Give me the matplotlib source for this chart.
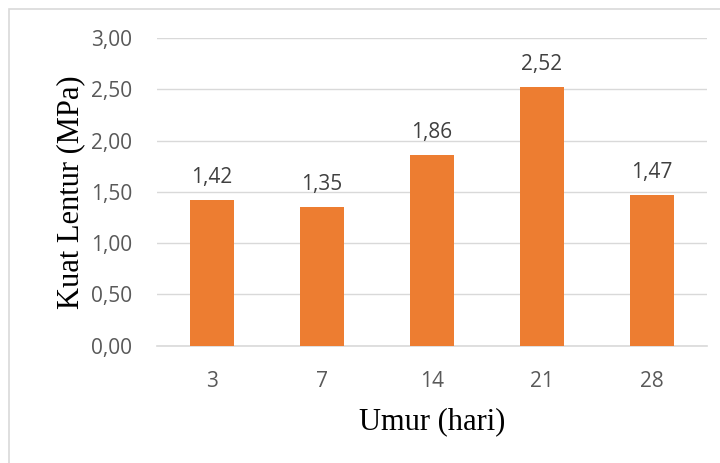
import matplotlib.pyplot as plt
from matplotlib.patches import Rectangle
from matplotlib.ticker import FuncFormatter

umur = ['3', '7', '14', '21', '28']
kuat_lentur = [1.42, 1.35, 1.86, 2.52, 1.47]
y_ticks = [0.0, 0.5, 1.0, 1.5, 2.0, 2.5, 3.0]

def koma(v, pos=None):
    # desimal pakai koma
    return f'{v:.2f}'.replace('.', ',')

fig = plt.figure(figsize=(7.2, 4.63), dpi=100)
ax = fig.add_axes([157/720, 1 - 345.7/463, 550/720, 307.8/463])

# bingkai luar abu-abu
fig.patches.append(Rectangle((9/720, -0.05), 1.1, 1 - 9/463 + 0.05, transform=fig.transFigure,
                             fill=False, edgecolor='#d9d9d9', linewidth=1.2))

x = range(len(umur))
bars = ax.bar(x, kuat_lentur, width=0.4, color='#ED7D31', zorder=3)

for b, v in zip(bars, kuat_lentur):
    ax.annotate(koma(v), (b.get_x() + b.get_width()/2, v), xytext=(0, 8.5),
                textcoords='offset points', ha='center', va='bottom',
                fontsize=15, color='#404040', family='Open Sans')

ax.set_xlim(-0.5, len(umur) - 0.5)
ax.set_ylim(0, 3.0)
ax.set_yticks(y_ticks)
ax.yaxis.set_major_formatter(FuncFormatter(koma))
ax.set_xticks(list(x))
ax.set_xticklabels(umur)
ax.grid(axis='y', color='#d9d9d9', linewidth=1.0, zorder=0)
for s in ['top', 'right', 'left']:
    ax.spines[s].set_visible(False)
ax.spines['bottom'].set_color('#d9d9d9')
ax.spines['bottom'].set_linewidth(1.2)
ax.tick_params(axis='both', length=0, labelsize=15, labelcolor='#595959')
ax.tick_params(axis='y', pad=18)
ax.tick_params(axis='x', pad=18)
for lbl in ax.get_xticklabels() + ax.get_yticklabels():
    lbl.set_family('Open Sans')

ax.set_xlabel('Umur (hari)', fontsize=22, family='Liberation Serif', labelpad=11)
ax.set_ylabel('Kuat Lentur (MPa)', fontsize=22, family='Liberation Serif', labelpad=4)

fig.savefig('out.png', dpi=100)
